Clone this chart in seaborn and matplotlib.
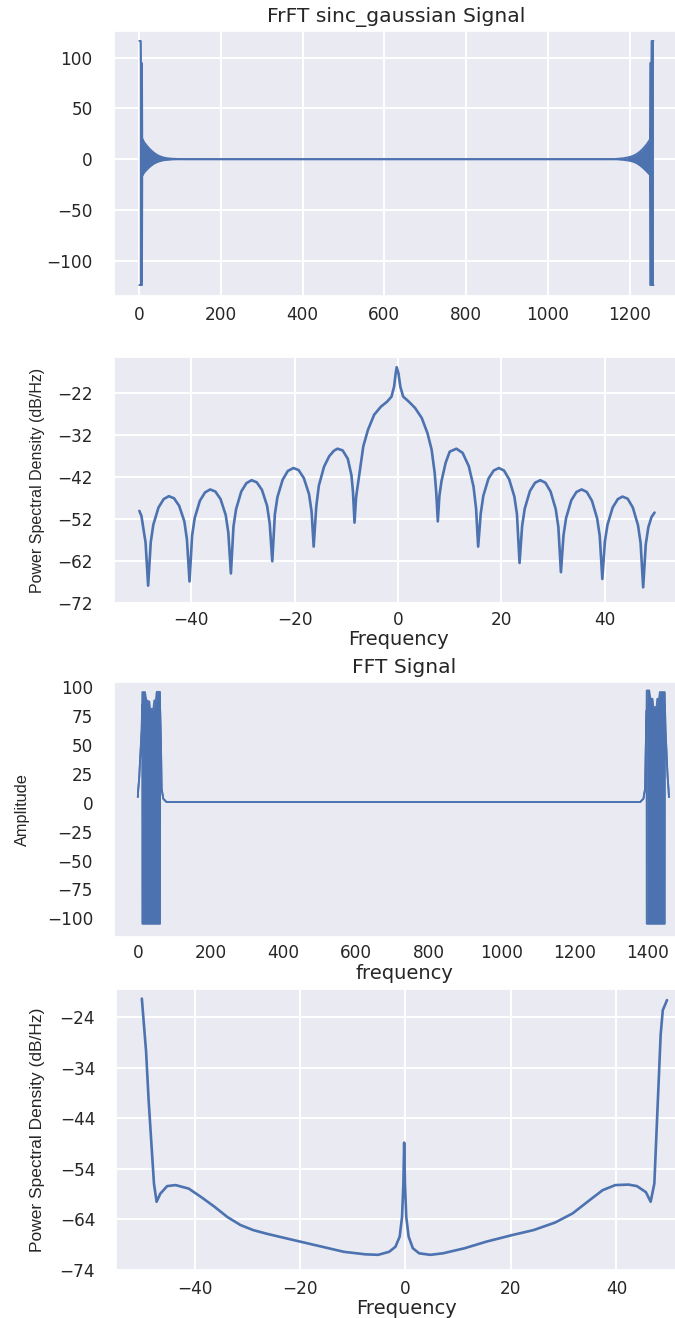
import matplotlib
matplotlib.use("Agg")
import matplotlib.pyplot as plt
import pandas as pd
import seaborn as sns

# ---------------- FrFT of the sinc-gaussian pulse (oscillation envelope) ----------------
frft_n = [0, 3.5, 4.0, 6.5, 7.2, 8.5, 12, 20, 28, 36, 45, 55, 65, 78, 92, 110,
          1160, 1169, 1185, 1201, 1210, 1218, 1226, 1234, 1242, 1250.0, 1250.7, 1253.5, 1254.0, 1258.5]
frft_hi = [116.5, 116.5, 94.7, 94.7, 19.4, 19.4, 16.5, 12.5, 9.0, 6.2, 3.8, 2.1, 1.1, 0.5, 0.2, 0.0,
           0.0, 0.3, 0.9, 2.2, 3.5, 5.2, 7.6, 10.8, 14.5, 19.4, 94.7, 94.7, 116.5, 116.5]
frft_lo = [-124.0, -124.0, -124.0, -124.0, -15.5, -15.5, -13.0, -9.6, -6.6, -4.3, -2.6, -1.4, -0.7, -0.3, -0.1, 0.0,
           0.0, -0.15, -0.6, -1.6, -2.6, -4.0, -6.2, -8.9, -12.0, -15.5, -124.0, -124.0, -124.0, -124.0]

# ---------------- PSD of the FrFT signal ----------------
frft_psd_f = [-50.0, -49.6, -49.3, -48.8, -48.3,
              -47.8, -47.3, -46.3, -45.3, -44.3, -43.3, -42.3, -41.3, -40.8, -40.3,
              -39.8, -39.3, -38.3, -37.3, -36.3, -35.3, -34.3, -33.3, -32.8, -32.3,
              -31.8, -31.3, -30.3, -29.3, -28.3, -27.3, -26.3, -25.3, -24.8, -24.3,
              -23.8, -23.3, -22.3, -21.3, -20.2, -19.2, -18.2, -17.2, -16.7, -16.3,
              -15.8, -15.3, -14.3, -13.3, -12.4, -11.7, -10.7, -9.7, -9.0, -8.7, -8.4,
              -8.1, -7.9, -7.25, -6.7, -5.8, -4.6, -3.3, -2.1, -1.25, -0.75, -0.45, -0.25,
              0.1, 0.45, 1.0, 2.1, 3.3, 4.6, 5.7, 6.5, 7.1, 7.4, 7.7,
              8.0, 8.4, 9.2, 10.0, 11.3, 12.5, 13.7, 14.6, 15.1, 15.5,
              16.0, 16.5, 17.5, 18.5, 19.5, 20.5, 21.5, 22.5, 23.0, 23.5,
              24.0, 24.5, 25.5, 26.5, 27.5, 28.5, 29.5, 30.5, 31.0, 31.5,
              32.0, 32.5, 33.5, 34.5, 35.5, 36.5, 37.5, 38.5, 39.0, 39.5,
              40.0, 40.5, 41.5, 42.5, 43.4, 44.4, 45.4, 46.4, 46.9, 47.4,
              47.9, 48.4, 49.0, 49.6]
frft_psd_db = [-50.0, -51.2, -53.5, -57.5, -67.8,
               -57.5, -53.3, -49.2, -47.2, -46.5, -47.0, -48.8, -52.5, -56.8, -66.8,
               -55.9, -51.7, -47.6, -45.6, -44.9, -45.4, -47.2, -51.0, -55.2, -64.9,
               -53.7, -49.6, -45.4, -43.4, -42.7, -43.2, -45.0, -48.8, -53.0, -62.0,
               -50.8, -46.7, -42.6, -40.5, -39.8, -40.3, -42.2, -46.0, -50.2, -58.5,
               -49.0, -44.0, -39.5, -37.0, -35.7, -35.2, -35.6, -37.6, -41.5, -45.5, -52.8,
               -46.8, -45.0, -39.4, -34.6, -30.7, -27.1, -25.2, -24.0, -22.8, -20.4, -17.3, -15.8,
               -17.3, -20.4, -22.8, -24.0, -25.5, -27.9, -31.5, -35.4, -41.0, -45.7, -52.5,
               -46.5, -43.0, -38.6, -35.9, -35.2, -36.2, -39.4, -44.2, -49.5, -58.5,
               -50.6, -46.4, -42.3, -40.4, -39.8, -40.4, -42.5, -46.6, -50.8, -62.4,
               -53.6, -49.5, -45.3, -43.3, -42.7, -43.3, -45.4, -49.6, -53.8, -64.6,
               -55.8, -51.7, -47.5, -45.5, -44.9, -45.5, -47.6, -51.8, -55.9, -66.2,
               -57.3, -53.3, -49.2, -47.2, -46.6, -47.1, -49.2, -53.4, -57.6, -68.2,
               -58.0, -53.9, -51.5, -50.4]

# ---------------- FFT of the signal (oscillation envelope) ----------------
fft_k = [0, 1.4, 4, 6, 8.5, 10.7, 12.0,
         12.4, 19.8, 22.0, 24.3, 31.7, 33.5, 42.7, 45.4, 49.8, 51.8, 61.0,
         61.4, 63.7, 65.5, 70.0, 79.0,
         1379.0, 1388.0, 1392.5, 1394.5, 1396.6,
         1397.0, 1404.0, 1406.0, 1408.0, 1413.0, 1415.0, 1424.0, 1426.0, 1431.0, 1433.0, 1446.5,
         1447.0, 1448.5, 1450.5, 1452.5, 1454.5, 1456.8, 1458.0]
fft_hi = [4.9, 12.0, 22.0, 35.0, 50.0, 64.0, 85.0,
          95.8, 95.8, 91.0, 88.5, 87.6, 81.3, 81.3, 88.5, 89.0, 96.0, 96.0,
          80.0, 49.6, 12.1, 3.5, 0.6,
          0.6, 3.5, 12.1, 49.6, 80.0,
          97.2, 97.2, 92.0, 90.0, 90.0, 82.8, 82.8, 90.0, 90.0, 95.8, 95.8,
          85.0, 64.0, 50.0, 35.0, 22.0, 12.0, 4.9]
fft_lo = [4.9, 12.0, 22.0, 35.0, 50.0, 64.0, 85.0,
          -104.7, -104.7, -104.7, -104.7, -104.7, -104.7, -104.7, -104.7, -104.7, -104.7, -104.7,
          80.0, 49.6, 12.1, 3.5, 0.6,
          0.6, 3.5, 12.1, 49.6, 80.0,
          -104.7, -104.7, -104.7, -104.7, -104.7, -104.7, -104.7, -104.7, -104.7, -104.7, -104.7,
          85.0, 64.0, 50.0, 35.0, 22.0, 12.0, 4.9]

# ---------------- PSD of the FFT signal ----------------
fft_psd_f = [-50.0, -49.7, -49.2, -48.7, -48.1, -47.7, -47.2, -46.5, -45.2, -43.6,
             -41.1, -38.7, -36.2, -33.8, -31.3, -28.9, -26.4, -24.0, -19.9, -15.8,
             -11.7, -7.6, -5.2, -3.1, -1.9, -1.1, -0.65, -0.4, -0.25, -0.1,
             0.15, 0.6, 1.4, 2.6, 4.7, 7.1, 11.2, 15.3, 20.2, 24.3,
             28.4, 31.7, 34.9, 37.4, 39.8, 42.3, 43.9, 45.6, 46.5, 47.2,
             47.6, 48.0, 48.4, 48.8, 49.6]
fft_psd_db = [-20.3, -24.2, -30.7, -40.6, -50.4, -56.9, -60.5, -58.9, -57.4, -57.2,
              -57.9, -59.6, -61.5, -63.5, -65.1, -66.1, -66.8, -67.4, -68.4, -69.4,
              -70.4, -70.9, -71.0, -70.4, -69.4, -67.4, -63.5, -56.9, -48.8, -56.9,
              -63.5, -67.4, -69.7, -70.7, -71.0, -70.7, -69.7, -68.4, -67.1, -66.1,
              -64.6, -62.8, -60.2, -58.2, -57.2, -57.1, -57.4, -58.6, -60.5, -56.9,
              -47.0, -37.2, -27.4, -22.6, -20.6]

# ---------------- tick values ----------------
frft_xticks = [0, 200, 400, 600, 800, 1000, 1200]
frft_yticks = [-100, -50, 0, 50, 100]
freq_xticks = [-40, -20, 0, 20, 40]
frft_psd_yticks = [-72, -62, -52, -42, -32, -22]
fft_xticks = [0, 200, 400, 600, 800, 1000, 1200, 1400]
fft_yticks = [-100, -75, -50, -25, 0, 25, 50, 75, 100]
fft_psd_yticks = [-74, -64, -54, -44, -34, -24]

# ---------------- style ----------------
sns.set_theme(style="darkgrid")
plt.rcParams["font.family"] = ["DejaVu Sans"]
plt.rcParams["grid.linewidth"] = 1.4
BLUE = "#4C72B0"
TXT = "#262626"
LABEL_FONT = ["Liberation Sans", "DejaVu Sans"]

W, H = 675, 1318
fig = plt.figure(figsize=(W / 100, H / 100), dpi=100)


def box(left, right, top, bottom):
    return [left / W, 1 - bottom / H, (right - left) / W, (bottom - top) / H]


def style_axis(ax, xpad):
    ax.tick_params(axis="both", length=0, labelsize=12.2, labelcolor=TXT)
    ax.tick_params(axis="x", pad=xpad)
    ax.tick_params(axis="y", pad=15)


def envelope(ax, x, hi, lo, lw):
    df = pd.DataFrame({"x": x, "hi": hi, "lo": lo})
    ax.fill_between(df["x"], df["lo"], df["hi"], color=BLUE, linewidth=0)
    sns.lineplot(data=df, x="x", y="hi", ax=ax, color=BLUE, linewidth=lw, estimator=None)
    sns.lineplot(data=df, x="x", y="lo", ax=ax, color=BLUE, linewidth=lw, estimator=None)


# Panel 1: FrFT signal
ax1 = fig.add_axes(box(113.6, 679, 31, 295.7))
envelope(ax1, frft_n, frft_hi, frft_lo, 1.4)
ax1.set_xlim(-62.9, 1321)
ax1.set_ylim(-134.5, 126.3)
ax1.set_xticks(frft_xticks)
ax1.set_yticks(frft_yticks)
ax1.set_xlabel("")
ax1.set_ylabel("")
ax1.set_title("FrFT sinc_gaussian Signal", fontsize=14.6, color=TXT, pad=6.5)
style_axis(ax1, 7.6)

# Panel 2: PSD of the FrFT signal
ax2 = fig.add_axes(box(114, 683, 356.7, 603.3))
psd1 = pd.DataFrame({"f": frft_psd_f, "db": frft_psd_db})
sns.lineplot(data=psd1, x="f", y="db", ax=ax2, color=BLUE, linewidth=1.9, estimator=None)
ax2.set_xlim(-54.9, 55.1)
ax2.set_ylim(-72, -13.3)
ax2.set_xticks(freq_xticks)
ax2.set_yticks(frft_psd_yticks)
ax2.set_xlabel("Frequency", fontsize=14, color=TXT)
ax2.set_ylabel("Power Spectral Density (dB/Hz)", fontsize=11.5, color=TXT, family=LABEL_FONT)
ax2.xaxis.set_label_coords(0.5, -0.108)
ax2.yaxis.set_label_coords(-0.121, 0.5)
style_axis(ax2, 5.6)

# Panel 3: FFT signal
ax3 = fig.add_axes(box(114, 694, 681.7, 936.7))
envelope(ax3, fft_k, fft_hi, fft_lo, 1.3)
ax3.grid(False)
ax3.set_xlim(-65.3, 1526.8)
ax3.set_ylim(-115.9, 104.8)
ax3.set_xticks(fft_xticks)
ax3.set_yticks(fft_yticks)
ax3.set_xlabel("frequency", fontsize=14, color=TXT)
ax3.set_ylabel("Amplitude", fontsize=11.8, color=TXT, family=LABEL_FONT)
ax3.xaxis.set_label_coords(0.5, -0.106)
ax3.yaxis.set_label_coords(-0.1447, 0.5)
ax3.set_title("FFT Signal", fontsize=14.6, color=TXT, pad=6)
style_axis(ax3, 5.6)

# Panel 4: PSD of the FFT signal
ax4 = fig.add_axes(box(116, 696, 989, 1270))
psd2 = pd.DataFrame({"f": fft_psd_f, "db": fft_psd_db})
sns.lineplot(data=psd2, x="f", y="db", ax=ax4, color=BLUE, linewidth=1.9, estimator=None)
ax4.set_xlim(-54.9, 55.1)
ax4.set_ylim(-74, -18.4)
ax4.set_xticks(freq_xticks)
ax4.set_yticks(fft_psd_yticks)
ax4.set_xlabel("Frequency", fontsize=14, color=TXT)
ax4.set_ylabel("Power Spectral Density (dB/Hz)", fontsize=12.5, color=TXT, family=LABEL_FONT)
ax4.xaxis.set_label_coords(0.5, -0.102)
ax4.yaxis.set_label_coords(-0.1221, 0.5)
style_axis(ax4, 7.4)

fig.savefig("out.png", dpi=100)
